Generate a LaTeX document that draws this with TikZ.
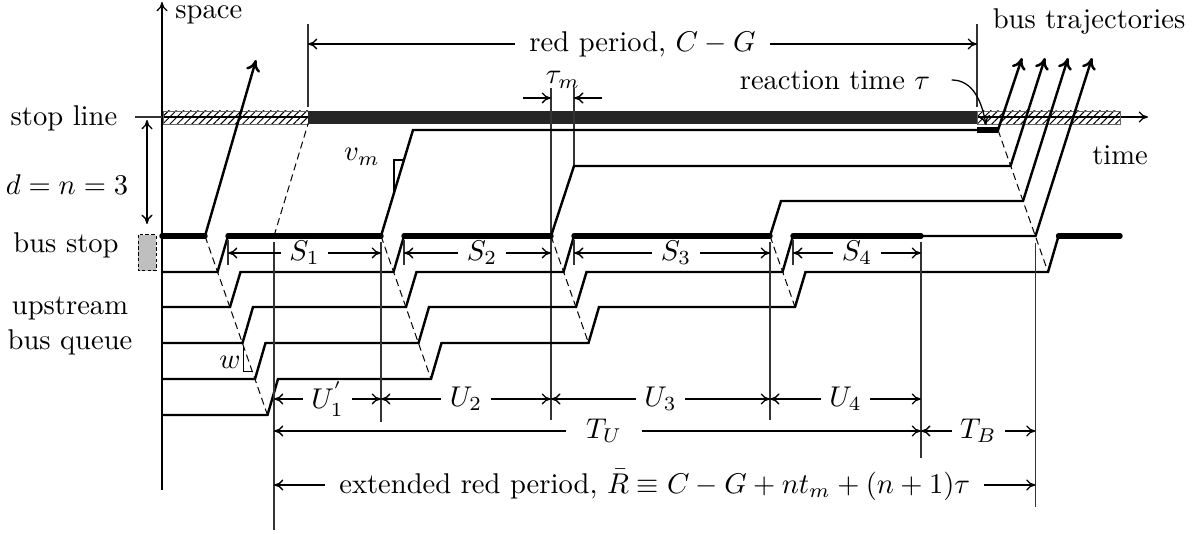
\documentclass[tikz,border=0pt]{standalone}
\usepackage{amsmath,amssymb}
\usetikzlibrary{patterns.meta, arrows.meta}

\begin{document}
\begin{tikzpicture}[
    x=0.35pt, y=-0.35pt,
    >={Computer Modern Rightarrow[length=3.3pt, width=3.9pt]},
    traj/.style={line width=0.85pt},
    trajend/.style={traj, -{Computer Modern Rightarrow[length=4pt, width=5pt]}},
    dwell/.style={line width=1.9pt, line cap=round},
    wave/.style={dashed, dash pattern=on 2.5pt off 1.5pt, line width=0.35pt},
    guide/.style={line width=0.45pt, draw=black!80},
    dim/.style={<->, line width=0.45pt},
    gap/.style={fill=white, inner xsep=3pt, inner ysep=0.5pt},
    hatchbar/.style={draw=black!60, line width=0.3pt, pattern={Lines[angle=45,distance=1.8pt,line width=0.35pt]}}
]
\useasboundingbox (0,0) rectangle (1203,534);

% axes and stop line bar
\draw[line width=0.45pt,->] (162,490) -- (162,2);
\draw[line width=0.45pt,->] (162,117) -- (1148,117);
\draw[hatchbar] (163,111) rectangle (308,124);
\fill[black!85] (308,111) rectangle (977,124);
\draw[hatchbar] (977,111) rectangle (1120,124);

\node[anchor=west, inner sep=1pt] (space) at (172,15) {space};
\node (time) at (1120,155) {time};
\node (trajlbl) at (1089,22) {bus trajectories};

% left side labels
\node (stopline) at (64,118) {stop line};
\draw[guide] (135,117) -- (162,117);
\node (dlbl) at (67,185) {$d=n=3$};
\draw[dim] (147,120) -- (147,224);
\node (busstop) at (66,245) {bus stop};
\draw[dashed, dash pattern=on 1.2pt off 0.8pt, line width=0.35pt, fill=gray!50] (138,235) rectangle (156,271);
\node[align=center] (queue) at (70,326) {upstream\\bus queue};

% red period
\draw[guide] (308,24) -- (308,107);
\draw[guide] (977,24) -- (977,107);
\draw[dim] (308,44) -- node[gap, inner xsep=5pt] (red) {red period, $C-G$} (977,44);

% tau_m
\draw[guide] (551,88) -- (551,420);
\draw[guide] (574,88) -- (574,166);
\draw[->, line width=0.45pt] (523,98) -- (551,98);
\draw[->, line width=0.45pt] (602,98) -- (574,98);
\node (taum) at (563,80) {$\tau_m$};

% reaction time
\node (react) at (835,80) {reaction time $\tau$};
\draw[->, line width=0.45pt] ([xshift=4pt]react.east) to[out=0, in=100] (986,125);

% waves
\draw[wave] (274,236) -- (308,124);
\draw[wave] (205,236) -- (267.5,415);
\draw[wave] (381,236) -- (431,379);
\draw[wave] (551,236) -- (588.5,343);
\draw[wave] (770,236) -- (795,307);
\draw[wave] (998,130) -- (1048,272);

% bus trajectories
\draw[trajend] (205,236) -- (256,60);
\draw[trajend] (162,272) -- (217.5,272) -- (228,236) -- (381,236) -- (413,130) -- (998,130) -- (1022,58);
\draw[trajend] (162,307) -- (230,307) -- (240.5,272) -- (393.5,272) -- (404,236) -- (551,236) -- (574,166) -- (1010.5,166) -- (1045,58);
\draw[trajend] (162,343) -- (242.5,343) -- (253,307) -- (406,307) -- (416.5,272) -- (563.5,272) -- (574,236) -- (770,236) -- (781,201) -- (1023,201) -- (1068,58);
\draw[trajend] (162,379) -- (255,379) -- (265.5,343) -- (418.5,343) -- (429,307) -- (576,307) -- (586.5,272) -- (782.5,272) -- (793,236) -- (1035.5,236) -- (1092,58);
\draw[traj] (162,415) -- (267.5,415) -- (278,379) -- (431,379) -- (441.5,343) -- (588.5,343) -- (599,307) -- (795,307) -- (805.5,272) -- (1048,272) -- (1058.5,236) -- (1120,236);

% dwell at the bus stop
\draw[dwell] (162,236) -- (205,236);
\draw[dwell] (228,236) -- (381,236);
\draw[dwell] (404,236) -- (551,236);
\draw[dwell] (574,236) -- (770,236);
\draw[dwell] (793,236) -- (921,236);
\draw[dwell] (1058.5,236) -- (1120,236);
\draw[dwell, line cap=butt] (977,130) -- (998,130);

% slope marks
\draw[line width=0.45pt] (394,193) -- (394,160) -- (403.9,160);
\node (vm) at (362,157) {$v_m$};
\draw[line width=0.45pt] (243.3,345.7) -- (243.3,371.7) -- (252.4,371.7);
\node (w) at (230,362) {$w$};

% time marks
\draw[guide] (228,240) -- (228,265) (404,240) -- (404,265) (574,240) -- (574,265) (793,240) -- (793,265);
\draw[guide] (274,242) -- (274,530);
\draw[guide] (381,242) -- (381,422);
\draw[guide] (770,242) -- (770,420);
\draw[guide] (921,242) -- (921,458);
\draw[guide] (1035.5,243) -- (1035.5,507);

\draw[dim] (228,253) -- node[gap] (s1) {$S_1$} (381,253);
\draw[dim] (404,253) -- node[gap, pos=0.53] (s2) {$S_2$} (551,253);
\draw[dim] (574,253) -- node[gap, pos=0.52] (s3) {$S_3$} (770,253);
\draw[dim] (793,253) -- node[gap] (s4) {$S_4$} (921,253);
\draw[dim] (274,399) -- node[gap] (u1) {$U_1^{'}$} (381,399);
\draw[dim] (381,399) -- node[gap] (u2) {$U_2$} (551,399);
\draw[dim] (551,399) -- node[gap] (u3) {$U_3$} (770,399);
\draw[dim] (770,399) -- node[gap] (u4) {$U_4$} (921,399);
\draw[dim] (274,431) -- node[gap, inner xsep=7pt, pos=0.51] (tu) {$T_U$} (921,431);
\draw[dim] (921,431) -- node[gap] (tb) {$T_B$} (1035.5,431);
\draw[dim] (274,485) -- node[gap, inner xsep=5pt] (rbar) {extended red period, $\bar{R}\equiv C-G+nt_m+(n+1)\tau$} (1035.5,485);
\end{tikzpicture}
\end{document}
